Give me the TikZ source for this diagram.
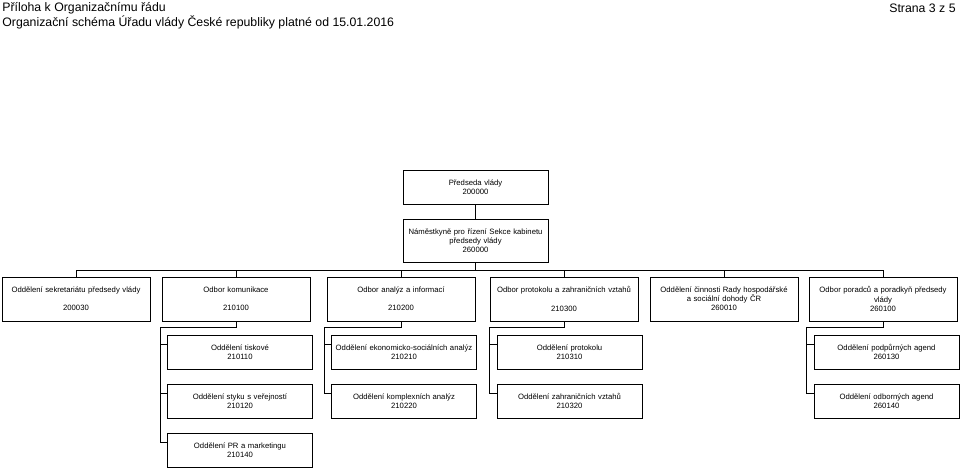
\documentclass[tikz,border=0pt]{standalone}
\usepackage{fontspec}
\setmainfont{Liberation Sans}
\usetikzlibrary{positioning}

\begin{document}
\begin{tikzpicture}[x=1pt,y=-1pt,line width=0.7pt,
  box/.style={draw,minimum width=148pt,minimum height=44pt,text width=142pt,
    align=center,inner sep=1pt,font=\fontsize{7.7}{9.2}\selectfont},
  sub/.style={box,minimum width=145pt,minimum height=34pt},
  head/.style={anchor=west,inner sep=0pt,font=\fontsize{12.3}{14}\selectfont}]
\useasboundingbox (0,0) rectangle (960,470);
% hlavicka
\node[head] (t1) at (2,8) {Příloha k Organizačnímu řádu};
\node[head] (t2) at (2,22) {Organizační schéma Úřadu vlády České republiky platné od 15.01.2016};
\node[head,anchor=east] (t3) at (956,8) {Strana 3 z 5};
% vedeni
\node[sub] (pv) at (475.5,187) {Předseda vlády\\200000};
\node[sub,minimum height=43pt] (nam) at (475.5,240.5) {Náměstkyně pro řízení Sekce kabinetu\\předsedy vlády\\260000};
\coordinate (bus) at (0,270);
\draw (pv) -- (nam);
\draw (nam.south) -- (nam.south |- bus);
% odbory
\node[box] (p1) at (76,299) {Oddělení sekretariátu předsedy vlády\\~\\200030};
\node[box] (p2) at (236,299) {Odbor komunikace\\~\\210100};
\node[box] (p3) at (401,299) {Odbor analýz a informací\\~\\210200};
\node[box] (p4) at (564,299) {Odbor protokolu a zahraničních vztahů\\~\\210300};
\node[box] (p5) at (724,299) {Oddělení činnosti Rady hospodářské\\a sociální dohody ČR\\260010};
\node[box] (p6) at (883,299) {Odbor poradců a poradkyň předsedy\\vlády\\260100};
\draw (p1.north) |- (bus -| p6.north) -- (p6.north);
\foreach \p in {p2,p3,p4,p5}
  \draw (\p.north) -- (\p.north |- bus);
% oddeleni
\node[sub] (k21) at (240,352) {Oddělení tiskové\\210110};
\node[sub] (k22) at (240,401) {Oddělení styku s veřejností\\210120};
\node[sub] (k23) at (240,450) {Oddělení PR a marketingu\\210140};
\node[sub] (k31) at (404,352) {Oddělení ekonomicko-sociálních analýz\\210210};
\node[sub] (k32) at (404,401) {Oddělení komplexních analýz\\210220};
\node[sub] (k41) at (569.5,352) {Oddělení protokolu\\210310};
\node[sub] (k42) at (569.5,401) {Oddělení zahraničních vztahů\\210320};
\node[sub] (k61) at (886.5,352) {Oddělení podpůrných agend\\260130};
\node[sub] (k62) at (886.5,401) {Oddělení odborných agend\\260140};
\draw (p2.south) -- ++(0,6) -| ([xshift=-7pt,yshift=8pt]k23.west) -- ([yshift=8pt]k23.west);
\draw (p3.south) -- ++(0,6) -| ([xshift=-7pt,yshift=8pt]k32.west) -- ([yshift=8pt]k32.west);
\draw (p4.south) -- ++(0,6) -| ([xshift=-7pt,yshift=8pt]k42.west) -- ([yshift=8pt]k42.west);
\draw (p6.south) -- ++(0,6) -| ([xshift=-7pt,yshift=8pt]k62.west) -- ([yshift=8pt]k62.west);
\foreach \k in {k21,k22,k31,k41,k61}
  \draw ([yshift=8pt]\k.west) -- ++(-7,0);
\end{tikzpicture}
\end{document}
